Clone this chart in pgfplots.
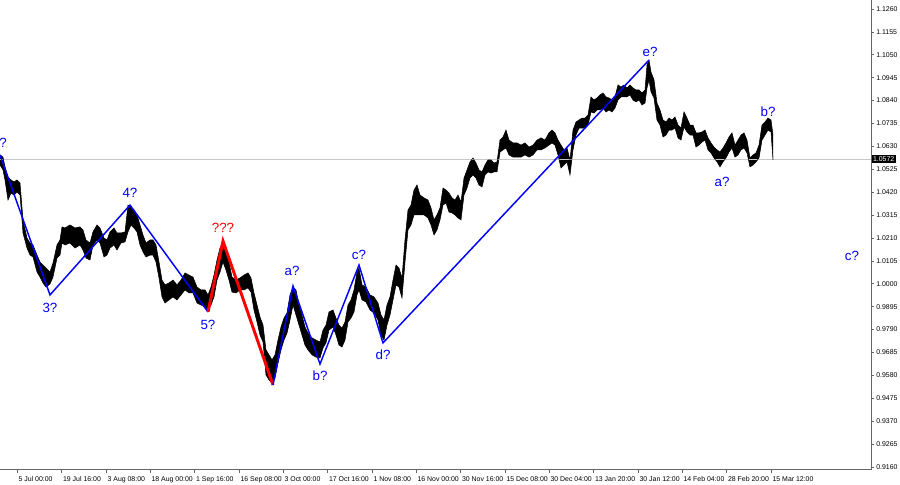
\documentclass[border=0pt]{standalone}
\usepackage{pgfplots}
\pgfplotsset{compat=1.18}
\usepackage{pgfplotstable}
\usepgfplotslibrary{fillbetween}
\usepackage{fontspec}
\setmainfont{Liberation Sans}
\pgfplotstableread{
x hi lo
0 1.0591 1.0545
3 1.0581 1.0522
5 1.0536 1.0476
8 1.0490 1.0384
11 1.0476 1.0416
14 1.0467 1.0407
17 1.0476 1.0421
20 1.0462 1.0407
21 1.0407 1.0352
23 1.0293 1.0233
27 1.0210 1.0164
30 1.0187 1.0132
33 1.0178 1.0123
37 1.0132 1.0054
40 1.0100 1.0031
43 1.0086 1.0004
46 1.0072 0.9985
50 1.0054 0.9999
53 1.0095 1.0031
57 1.0178 1.0118
60 1.0201 1.0132
62 1.0261 1.0187
65 1.0256 1.0178
70 1.0270 1.0187
75 1.0256 1.0164
80 1.0261 1.0178
83 1.0247 1.0155
86 1.0201 1.0118
90 1.0187 1.0109
93 1.0238 1.0178
97 1.0270 1.0201
100 1.0256 1.0187
104 1.0210 1.0123
107 1.0201 1.0132
110 1.0238 1.0164
114 1.0256 1.0178
117 1.0233 1.0155
121 1.0233 1.0187
125 1.0238 1.0192
128 1.0361 1.0238
131 1.0352 1.0270
134 1.0338 1.0256
137 1.0316 1.0238
140 1.0270 1.0178
143 1.0224 1.0146
146 1.0187 1.0123
150 1.0201 1.0132
153 1.0201 1.0132
156 1.0178 1.0100
159 1.0100 1.0027
162 1.0017 0.9940
165 0.9995 0.9912
169 1.0004 0.9926
173 1.0017 0.9940
177 0.9995 0.9926
181 1.0017 0.9949
185 1.0050 0.9972
189 1.0040 0.9958
193 1.0031 0.9958
197 0.9985 0.9912
201 0.9972 0.9903
205 0.9972 0.9894
208 0.9949 0.9880
211 0.9985 0.9903
214 1.0040 0.9940
217 1.0109 1.0017
220 1.0164 1.0054
223 1.0192 1.0100
226 1.0155 1.0063
229 1.0100 1.0017
232 1.0031 0.9962
236 1.0017 0.9958
240 1.0027 0.9972
244 1.0040 0.9972
248 1.0050 0.9981
251 1.0027 0.9962
254 0.9958 0.9880
257 0.9903 0.9825
260 0.9848 0.9765
263 0.9811 0.9733
266 0.9697 0.9582
269 0.9674 0.9559
272 0.9651 0.9545
275 0.9674 0.9568
278 0.9742 0.9637
281 0.9802 0.9697
284 0.9843 0.9742
287 0.9866 0.9774
290 0.9949 0.9834
293 0.9985 0.9903
296 0.9972 0.9857
299 0.9903 0.9811
302 0.9857 0.9765
305 0.9802 0.9719
308 0.9774 0.9697
312 0.9752 0.9674
316 0.9742 0.9664
320 0.9733 0.9660
323 0.9788 0.9706
326 0.9811 0.9729
329 0.9871 0.9788
333 0.9880 0.9802
336 0.9843 0.9765
339 0.9811 0.9719
342 0.9797 0.9710
345 0.9825 0.9742
348 0.9903 0.9825
351 0.9926 0.9843
354 0.9972 0.9871
357 1.0054 0.9949
359 1.0072 0.9972
362 0.9995 0.9926
366 0.9985 0.9917
370 0.9949 0.9880
374 0.9940 0.9866
378 0.9912 0.9834
381 0.9857 0.9765
384 0.9834 0.9742
387 0.9903 0.9811
390 0.9940 0.9857
393 1.0017 0.9926
396 1.0086 0.9995
399 1.0072 0.9985
402 1.0027 0.9935
405 1.0201 1.0100
408 1.0338 1.0247
411 1.0361 1.0270
414 1.0430 1.0316
417 1.0453 1.0316
420 1.0407 1.0316
424 1.0394 1.0316
428 1.0384 1.0302
431 1.0348 1.0270
434 1.0293 1.0224
437 1.0316 1.0247
440 1.0348 1.0293
443 1.0439 1.0361
446 1.0430 1.0371
449 1.0416 1.0329
452 1.0394 1.0325
455 1.0384 1.0316
458 1.0407 1.0302
461 1.0375 1.0293
464 1.0485 1.0407
467 1.0522 1.0439
470 1.0559 1.0485
473 1.0577 1.0499
476 1.0554 1.0485
479 1.0522 1.0453
482 1.0513 1.0444
485 1.0545 1.0499
488 1.0568 1.0513
491 1.0568 1.0508
494 1.0554 1.0513
497 1.0559 1.0513
500 1.0659 1.0604
503 1.0673 1.0614
506 1.0705 1.0623
509 1.0659 1.0591
513 1.0646 1.0581
517 1.0646 1.0581
521 1.0636 1.0581
525 1.0646 1.0591
529 1.0627 1.0581
533 1.0636 1.0591
537 1.0659 1.0614
541 1.0669 1.0614
545 1.0659 1.0623
549 1.0692 1.0636
552 1.0705 1.0646
555 1.0692 1.0636
558 1.0659 1.0591
561 1.0636 1.0531
564 1.0614 1.0545
567 1.0623 1.0559
570 1.0568 1.0499
573 1.0705 1.0614
576 1.0742 1.0682
579 1.0751 1.0714
582 1.0760 1.0714
585 1.0760 1.0714
588 1.0774 1.0728
591 1.0857 1.0788
594 1.0843 1.0783
597 1.0852 1.0797
600 1.0866 1.0797
603 1.0875 1.0806
606 1.0857 1.0788
609 1.0852 1.0797
612 1.0843 1.0788
615 1.0857 1.0806
618 1.0912 1.0843
621 1.0902 1.0857
624 1.0912 1.0857
627 1.0898 1.0857
630 1.0912 1.0866
633 1.0898 1.0843
636 1.0889 1.0834
639 1.0889 1.0843
642 1.0875 1.0820
645 1.0889 1.0829
647 1.1003 1.0898
649 1.1026 1.0935
651 1.0971 1.0880
654 1.0935 1.0852
657 1.0829 1.0751
660 1.0797 1.0728
663 1.0751 1.0673
666 1.0742 1.0682
669 1.0760 1.0705
672 1.0751 1.0705
675 1.0765 1.0714
678 1.0728 1.0669
681 1.0714 1.0659
684 1.0788 1.0719
687 1.0760 1.0696
690 1.0728 1.0682
693 1.0728 1.0682
696 1.0692 1.0627
699 1.0692 1.0636
702 1.0696 1.0650
705 1.0705 1.0659
708 1.0669 1.0614
711 1.0646 1.0600
714 1.0627 1.0577
717 1.0614 1.0559
720 1.0604 1.0536
723 1.0623 1.0559
726 1.0646 1.0577
729 1.0673 1.0604
732 1.0692 1.0623
735 1.0636 1.0581
738 1.0659 1.0591
741 1.0682 1.0614
744 1.0692 1.0623
747 1.0659 1.0600
750 1.0577 1.0536
753 1.0591 1.0545
756 1.0600 1.0559
759 1.0636 1.0577
762 1.0728 1.0659
765 1.0742 1.0682
768 1.0760 1.0705
771 1.0751 1.0696
773 1.0682 1.0568
}\price
\pgfplotstableread{
x y
0 1.0591
50 0.9949
130 1.0361
208 0.9871
}\waveA
\pgfplotstableread{
x y
208 0.9871
223 1.0196
273 0.9536
}\waveB
\pgfplotstableread{
x y
273 0.9536
293 0.9990
320 0.9632
359 1.0086
383 0.9729
649 1.1026
}\waveC
\begin{document}
\begin{tikzpicture}[x=1pt,y=1pt]
\begin{axis}[
  at={(0,0)}, anchor=south west,
  scale only axis, width=653.25pt, height=352.5pt,
  xmin=0, xmax=871, ymin=0.91463, ymax=1.13013,
  axis x line*=bottom, axis y line*=right,
  axis line style={black!60, line width=0.75pt},
  clip=false,
  xtick={17,61.5,106,150,194.5,239,283,327.5,372,416,460.5,505,549,593.5,638,682,726.5,771},
  xticklabels={5 Jul 00:00, 19 Jul 16:00, 3 Aug 08:00, 18 Aug 00:00, 1 Sep 16:00, 16 Sep 08:00, 3 Oct 00:00, 17 Oct 16:00, 1 Nov 08:00, 16 Nov 00:00, 30 Nov 16:00, 15 Dec 08:00, 30 Dec 04:00, 13 Jan 20:00, 30 Jan 12:00, 14 Feb 04:00, 28 Feb 20:00, 15 Mar 12:00},
  ytick={0.9160,0.9265,0.9370,0.9475,0.9580,0.9685,0.9790,0.9895,1.0000,1.0105,1.0210,1.0315,1.0420,1.0525,1.0630,1.0735,1.0840,1.0945,1.1050,1.1155,1.1260},
  yticklabel style={/pgf/number format/fixed, /pgf/number format/fixed zerofill, /pgf/number format/precision=4, /pgf/number format/assume math mode=true},
  tick label style={font=\fontsize{5.2}{6}\selectfont, text=black},
  x tick label style={anchor=north west, inner sep=0pt, xshift=1pt, yshift=-2.5pt},
  y tick label style={anchor=west, inner sep=0pt, xshift=1.5pt},
  tick align=outside, major tick length=2.25pt,
  tick style={black!60, line width=0.5pt},
]
\addplot[black!22, line width=0.7pt] coordinates {(0,1.0572) (871,1.0572)};
\addplot[name path=hi, black, line width=0.4pt] table[x=x, y=hi] {\price};
\addplot[name path=lo, black, line width=0.4pt] table[x=x, y=lo] {\price};
\addplot[black] fill between[of=hi and lo];
\addplot[blue, line width=1.1pt] table {\waveA};
\addplot[red, line width=2.2pt] table {\waveB};
\addplot[blue, line width=1.1pt] table {\waveC};
\node[fill=black, text=white, anchor=west, inner sep=1pt, font=\fontsize{5.2}{6}\selectfont] at (axis cs:871.5,1.0572) {1.0572};
\begin{scope}[every node/.style={font=\fontsize{10}{12}\selectfont, text=blue, inner sep=0pt}]
\node[anchor=west] at (axis cs:-1,1.0646) {?};
\node at (axis cs:50,0.9889) {3?};
\node at (axis cs:130,1.0416) {4?};
\node at (axis cs:208,0.9811) {5?};
\node[text=red] at (axis cs:223,1.0256) {???};
\node at (axis cs:292,1.0058) {a?};
\node at (axis cs:320,0.9577) {b?};
\node at (axis cs:359,1.0132) {c?};
\node at (axis cs:383,0.9674) {d?};
\node at (axis cs:650,1.1062) {e?};
\node at (axis cs:722,1.0467) {a?};
\node at (axis cs:768,1.0788) {b?};
\node at (axis cs:852,1.0128) {c?};
\end{scope}
\end{axis}
\pgfresetboundingbox
\path (0,-11.25) rectangle (675,352.5);
\end{tikzpicture}
\end{document}
